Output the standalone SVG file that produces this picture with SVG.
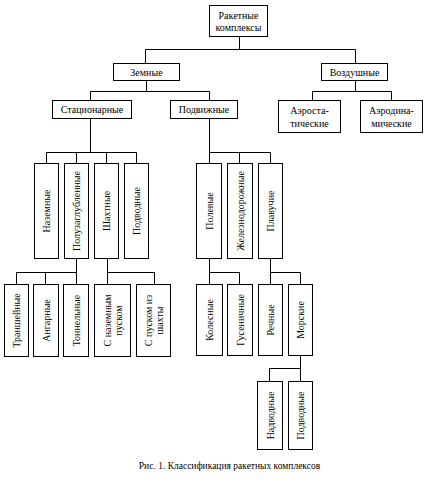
<svg xmlns="http://www.w3.org/2000/svg" width="429" height="489" viewBox="0 0 429 489">
<style>
rect.b{fill:#fff;stroke:#000;stroke-width:1}
text{font-size:10px;fill:#000;text-anchor:middle}
#connectors path{fill:none;stroke:#000;stroke-width:1}
</style>
<rect width="429" height="489" fill="#fff"/>
<g id="connectors">
<path d="M239.5 36V49.5M145.5 63V49.5H355.5V63"/>
<path d="M146.5 80V91.5M90.5 100V91.5H209.5V100"/>
<path d="M355.5 80V91.5M312.5 100V91.5H391.5V100"/>
<path d="M90.5 118V152.5M46.5 163V152.5H136.5V163M76.5 152.5V163M106.5 152.5V163"/>
<path d="M209.5 118V163M209.5 152.5H270.5V163M239.5 152.5V163"/>
<path d="M76.5 258V272.5M16.5 284V272.5H76.5V284M45.5 272.5V284"/>
<path d="M107.5 258V284M107.5 272.5H154.5V284"/>
<path d="M209.5 258V284M209.5 272.5H239.5V284"/>
<path d="M270.5 258V284M270.5 272.5H300.5V284"/>
<path d="M300.5 355V381M300.5 368.5H269.5V381"/>
</g>
<g font-family="Liberation Serif, Times New Roman, DejaVu Serif, serif">
<g id="n-root"><rect class="b" x="209.5" y="5.5" width="58" height="31"/><text x="238.5" y="19">Ракетные</text><text x="238.5" y="31">комплексы</text></g>
<g id="n-zemnye"><rect class="b" x="113.5" y="63.5" width="66" height="17"/><text x="146.5" y="75.5">Земные</text></g>
<g id="n-vozdushnye"><rect class="b" x="321.5" y="63.5" width="66" height="17"/><text x="354.5" y="75.5">Воздушные</text></g>
<g id="n-stac"><rect class="b" x="52.5" y="100.5" width="79" height="18"/><text x="92" y="113">Стационарные</text></g>
<g id="n-podv"><rect class="b" x="170.5" y="100.5" width="67" height="18"/><text x="204" y="113">Подвижные</text></g>
<g id="n-aerostat"><rect class="b" x="278.5" y="100.5" width="62" height="32"/><text x="309.5" y="114">Аэроста-</text><text x="309.5" y="127">тические</text></g>
<g id="n-aerodin"><rect class="b" x="360.5" y="100.5" width="62" height="32"/><text x="391.5" y="114">Аэродина-</text><text x="391.5" y="127">мические</text></g>
<g id="n-nazemnye"><rect class="b" x="34.5" y="163.5" width="24" height="95"/><text transform="translate(46.5 211) rotate(-90)" y="3.5">Наземные</text></g>
<g id="n-poluzagl"><rect class="b" x="64.5" y="163.5" width="24" height="95"/><text transform="translate(76.5 211) rotate(-90)" y="3.5">Полузаглубленные</text></g>
<g id="n-shakhtnye"><rect class="b" x="94.5" y="163.5" width="24" height="95"/><text transform="translate(106.5 211) rotate(-90)" y="3.5">Шахтные</text></g>
<g id="n-podvodnye1"><rect class="b" x="124.5" y="163.5" width="24" height="95"/><text transform="translate(136.5 211) rotate(-90)" y="3.5">Подводные</text></g>
<g id="n-polevye"><rect class="b" x="196.5" y="163.5" width="25" height="95"/><text transform="translate(209 211) rotate(-90)" y="3.5">Полевые</text></g>
<g id="n-zhd"><rect class="b" x="227.5" y="163.5" width="25" height="95"/><text transform="translate(240 211) rotate(-90)" y="3.5">Железнодорожные</text></g>
<g id="n-plavuchie"><rect class="b" x="258.5" y="163.5" width="24" height="95"/><text transform="translate(270.5 211) rotate(-90)" y="3.5">Плавучие</text></g>
<g id="n-transh"><rect class="b" x="4.5" y="284.5" width="24" height="72"/><text transform="translate(16.5 320.5) rotate(-90)" y="3.5">Траншейные</text></g>
<g id="n-angar"><rect class="b" x="33.5" y="284.5" width="25" height="72"/><text transform="translate(46 320.5) rotate(-90)" y="3.5">Ангарные</text></g>
<g id="n-tonnel"><rect class="b" x="63.5" y="284.5" width="25" height="72"/><text transform="translate(76 320.5) rotate(-90)" y="3.5">Тоннельные</text></g>
<g id="n-snazem"><rect class="b" x="94.5" y="284.5" width="36" height="72"/><text transform="translate(112.5 320.5) rotate(-90)"><tspan x="0" y="-2">С наземным</tspan><tspan x="0" y="9">пуском</tspan></text></g>
<g id="n-spuskom"><rect class="b" x="136.5" y="284.5" width="34" height="72"/><text transform="translate(153.5 320.5) rotate(-90)"><tspan x="0" y="-2">С пуском из</tspan><tspan x="0" y="9">шахты</tspan></text></g>
<g id="n-kolesnye"><rect class="b" x="196.5" y="284.5" width="26" height="71"/><text transform="translate(209.5 320) rotate(-90)" y="3.5">Колесные</text></g>
<g id="n-gusen"><rect class="b" x="227.5" y="284.5" width="25" height="71"/><text transform="translate(240 320) rotate(-90)" y="3.5">Гусеничные</text></g>
<g id="n-rechnye"><rect class="b" x="258.5" y="284.5" width="24" height="71"/><text transform="translate(270.5 320) rotate(-90)" y="3.5">Речные</text></g>
<g id="n-morskie"><rect class="b" x="288.5" y="284.5" width="24" height="71"/><text transform="translate(300.5 320) rotate(-90)" y="3.5">Морские</text></g>
<g id="n-nadvodnye"><rect class="b" x="257.5" y="381.5" width="25" height="68"/><text transform="translate(270 415.5) rotate(-90)" y="3.5">Надводные</text></g>
<g id="n-podvodnye2"><rect class="b" x="288.5" y="381.5" width="24" height="68"/><text transform="translate(300.5 415.5) rotate(-90)" y="3.5">Подводные</text></g>
<text x="229.5" y="469" style="font-size:9.5px">Рис. 1. Классификация ракетных комплексов</text>
</g>
</svg>
